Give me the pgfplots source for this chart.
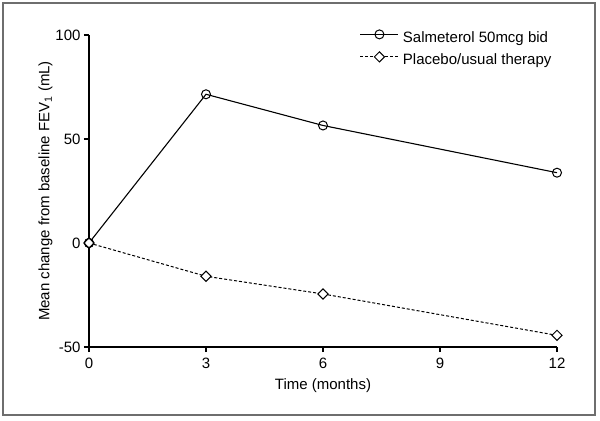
\documentclass[border=0pt]{standalone}
\usepackage{fontspec}
\setmainfont{Liberation Sans}
\usepackage{pgfplots}
\pgfplotsset{compat=1.18}
\newcommand{\lstrut}{\rule[-9bp]{0pt}{26bp}}
\begin{document}
\begin{tikzpicture}[font=\fontsize{15bp}{18bp}\selectfont]
\path[use as bounding box] (-89bp,-74bp) rectangle (511bp,347bp);
\draw[line width=1.3bp, draw={rgb,255:red,110;green,110;blue,110}] (-86bp,-68bp) rectangle (506bp,344bp);
\begin{axis}[
  at={(0,0)}, anchor=south west,
  scale only axis, width=468bp, height=312bp,
  xmin=0, xmax=12, ymin=-50, ymax=100,
  xtick={0,3,6,9,12}, ytick={-50,0,50,100},
  axis lines=left, axis line style={-, line width=1.2bp},
  tick style={line width=1.2bp, black},
  tick align=outside, major tick length=5bp,
  clip=false,
  /pgf/number format/assume math mode=true,
  tick label style={font=\fontsize{15bp}{18bp}\selectfont},
  xticklabel style={yshift=-3bp},
  xlabel={Time (months)},
  ylabel={Mean change from baseline FEV\textsubscript{1} (mL)},
  xlabel style={yshift=-3bp},
  ylabel style={yshift=-4bp},
  legend cell align=left,
  legend style={draw=none, fill=none, at={(0.572,1.045)}, anchor=north west,
    font=\fontsize{15bp}{18bp}\selectfont},
  legend image code/.code={\draw[mark repeat=2,mark phase=2] plot coordinates {(0bp,0bp)(19bp,0bp)(38bp,0bp)};},
]
\addplot[black, line width=1.1bp, mark=o, mark size=4.5bp, mark options={fill=white, solid, line width=1bp}]
  coordinates {(0,0) (3,71.5) (6,56.5) (12,33.8)};
\addlegendentry{\hspace{2bp}\lstrut Salmeterol 50mcg bid}
\addplot[black, line width=1.0bp, dash pattern=on 3bp off 2bp, mark=square*, mark size=3.6bp, mark options={fill=white, solid, line width=1bp, rotate=45}]
  coordinates {(0,0) (3,-16) (6,-24.5) (12,-44.4)};
\addlegendentry{\hspace{2bp}\lstrut Placebo/usual therapy}
\addplot[black, line width=1.1bp, mark=o, mark size=4.5bp, mark options={fill=white, solid, line width=1bp}, forget plot]
  coordinates {(0,0)};
\end{axis}
\end{tikzpicture}
\end{document}
